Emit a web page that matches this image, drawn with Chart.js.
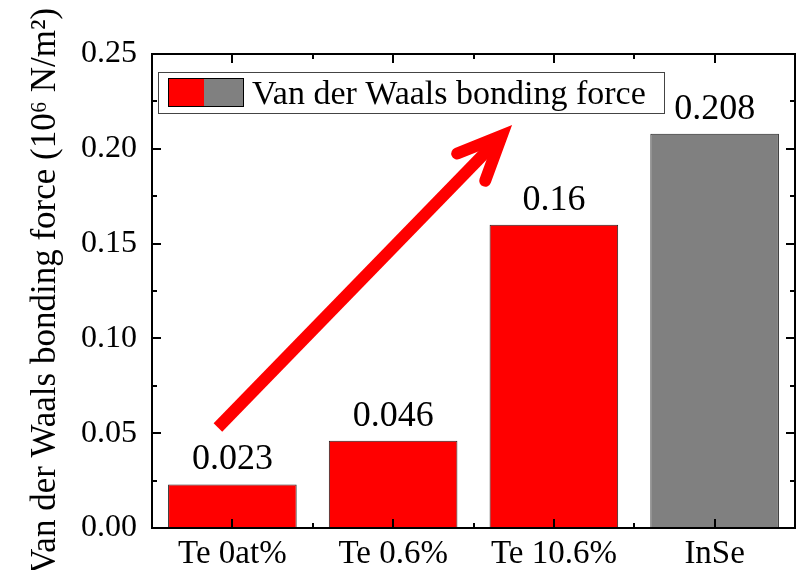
<!DOCTYPE html>
<html>
<head>
<meta charset="utf-8">
<script src="https://cdn.jsdelivr.net/npm/chart.js@4/dist/chart.umd.min.js"></script>
<style>
  html, body { margin: 0; padding: 0; background: #fff; }
  #wrap { width: 802px; height: 570px; position: relative; }
</style>
</head>
<body>
<div id="wrap"><canvas id="c" width="802" height="570"></canvas></div>
<script>
// ---- data ----
const categories = ['Te 0at%', 'Te 0.6%', 'Te 10.6%', 'InSe'];
const bondingForce = [0.023, 0.046, 0.16, 0.208];
const valueLabels = ['0.023', '0.046', '0.16', '0.208'];
const seriesName = 'Van der Waals bonding force';
const yTicks = [0.00, 0.05, 0.10, 0.15, 0.20, 0.25];
const yTitle = 'Van der Waals bonding force (10\u2076 N/m\u00B2)';
// arrow annotation in data units: [category index, value]
const arrowFrom = [-0.09, 0.053];
const arrowTo = [1.74, 0.2125];

// ---- styles ----
const barColors = ['#ff0000', '#ff0000', '#ff0000', '#808080'];
const FONT = '"Liberation Serif", "Times New Roman", serif';

const framePlugin = {
  id: 'frame',
  afterDatasetsDraw(chart) {
    const ctx = chart.ctx;
    const a = chart.chartArea;
    const x = chart.scales.x, y = chart.scales.y;
    ctx.save();
    ctx.strokeStyle = '#000';
    ctx.lineWidth = 2;
    ctx.strokeRect(a.left, a.top, a.right - a.left, a.bottom - a.top);
    const ymin = y.min, ymax = y.max;
    for (let i = 0; i < yTicks.length; i++) {
      const vals = [[yTicks[i], 9]];
      if (i < yTicks.length - 1) vals.push([(yTicks[i] + yTicks[i + 1]) / 2, 5]);
      for (const [v, len] of vals) {
        if (v <= ymin || v >= ymax) continue;
        const py = Math.round(y.getPixelForValue(v));
        ctx.beginPath();
        ctx.moveTo(a.left, py); ctx.lineTo(a.left + len, py);
        ctx.moveTo(a.right, py); ctx.lineTo(a.right - len, py);
        ctx.stroke();
      }
    }
    for (let i = 0; i < categories.length; i++) {
      const vals = [[i, 9]];
      if (i < categories.length - 1) vals.push([i + 0.5, 5]);
      for (const [v, len] of vals) {
        const px = Math.round(x.getPixelForValue(v));
        ctx.beginPath();
        ctx.moveTo(px, a.bottom); ctx.lineTo(px, a.bottom - len);
        ctx.moveTo(px, a.top); ctx.lineTo(px, a.top + len);
        ctx.stroke();
      }
    }
    ctx.restore();
  }
};

const labelPlugin = {
  id: 'valueLabels',
  afterDatasetsDraw(chart) {
    const ctx = chart.ctx;
    const meta = chart.getDatasetMeta(0);
    ctx.save();
    ctx.fillStyle = '#000';
    ctx.font = '36px ' + FONT;
    ctx.textAlign = 'center';
    ctx.textBaseline = 'alphabetic';
    meta.data.forEach((bar, i) => {
      ctx.fillText(valueLabels[i], bar.x, bar.y - 15);
    });
    ctx.restore();
  }
};

const arrowPlugin = {
  id: 'arrow',
  afterDatasetsDraw(chart) {
    const ctx = chart.ctx;
    const x = chart.scales.x, y = chart.scales.y;
    const x0 = x.getPixelForValue(arrowFrom[0]), y0 = y.getPixelForValue(arrowFrom[1]);
    const x1 = x.getPixelForValue(arrowTo[0]), y1 = y.getPixelForValue(arrowTo[1]);
    const w = 12;
    const dx = x0 - x1, dy = y0 - y1;
    const L = Math.hypot(dx, dy);
    const bx = dx / L, by = dy / L;
    const half = 24 * Math.PI / 180;
    const inset = (w / 2) / Math.sin(half);
    const tx = x1 + bx * inset, ty = y1 + by * inset;
    const armLen = 48;
    const rot = (ang) => [bx * Math.cos(ang) - by * Math.sin(ang), bx * Math.sin(ang) + by * Math.cos(ang)];
    const r1 = rot(half), r2 = rot(-half);
    ctx.save();
    ctx.strokeStyle = '#ff0000';
    ctx.lineWidth = w;
    ctx.lineCap = 'butt';
    ctx.beginPath();
    ctx.moveTo(x0, y0); ctx.lineTo(tx, ty);
    ctx.stroke();
    ctx.lineCap = 'round';
    ctx.lineJoin = 'miter';
    ctx.miterLimit = 10;
    ctx.beginPath();
    ctx.moveTo(tx + r1[0] * armLen, ty + r1[1] * armLen);
    ctx.lineTo(tx, ty);
    ctx.lineTo(tx + r2[0] * armLen, ty + r2[1] * armLen);
    ctx.stroke();
    ctx.restore();
  }
};

const legendPlugin = {
  id: 'boxLegend',
  afterDatasetsDraw(chart) {
    const ctx = chart.ctx;
    const a = chart.chartArea;
    const bx = a.left + 6, by = a.top + 18, bw = 506, bh = 41;
    ctx.save();
    ctx.fillStyle = '#fff';
    ctx.fillRect(bx, by, bw, bh);
    ctx.strokeStyle = '#444';
    ctx.lineWidth = 1;
    ctx.strokeRect(bx + 0.5, by + 0.5, bw, bh);
    const sx = bx + 10, sy = by + 6, sw = 75, sh = 28;
    ctx.fillStyle = barColors[0];
    ctx.fillRect(sx, sy, 36, sh);
    ctx.fillStyle = barColors[3];
    ctx.fillRect(sx + 36, sy, sw - 36, sh);
    ctx.strokeStyle = '#000';
    ctx.strokeRect(sx + 0.5, sy + 0.5, sw, sh);
    ctx.fillStyle = '#000';
    ctx.font = '34px ' + FONT;
    ctx.textAlign = 'left';
    ctx.textBaseline = 'alphabetic';
    ctx.fillText(chart.data.datasets[0].label, sx + sw + 9, by + 32);
    ctx.restore();
  }
};

new Chart(document.getElementById('c'), {
  type: 'bar',
  data: {
    labels: categories,
    datasets: [{
      label: seriesName,
      data: bondingForce,
      backgroundColor: barColors,
      borderColor: '#222',
      borderWidth: 1,
      barPercentage: 0.8,
      categoryPercentage: 1.0
    }]
  },
  options: {
    responsive: false,
    animation: false,
    devicePixelRatio: 1,
    layout: { padding: { top: 54, right: 7, left: 0, bottom: 0 } },
    plugins: { legend: { display: false }, tooltip: { enabled: false } },
    scales: {
      x: {
        grid: { display: false, drawTicks: false },
        border: { display: false },
        ticks: { color: '#000', font: { family: FONT, size: 33 }, padding: 7, maxRotation: 0 },
        afterFit(s) { s.height = 42; }
      },
      y: {
        min: 0, max: 0.25,
        grid: { display: false, drawTicks: false },
        border: { display: false },
        ticks: {
          stepSize: 0.05, color: '#000', padding: 15,
          font: { family: FONT, size: 32 },
          callback: (v) => Number(v).toFixed(2)
        },
        title: {
          display: true, text: yTitle, color: '#000',
          font: { family: FONT, size: 35 },
          padding: { top: 25, bottom: 0 }
        },
        afterFit(s) { s.width = 152; }
      }
    }
  },
  plugins: [framePlugin, labelPlugin, arrowPlugin, legendPlugin]
});
</script>
</body>
</html>
